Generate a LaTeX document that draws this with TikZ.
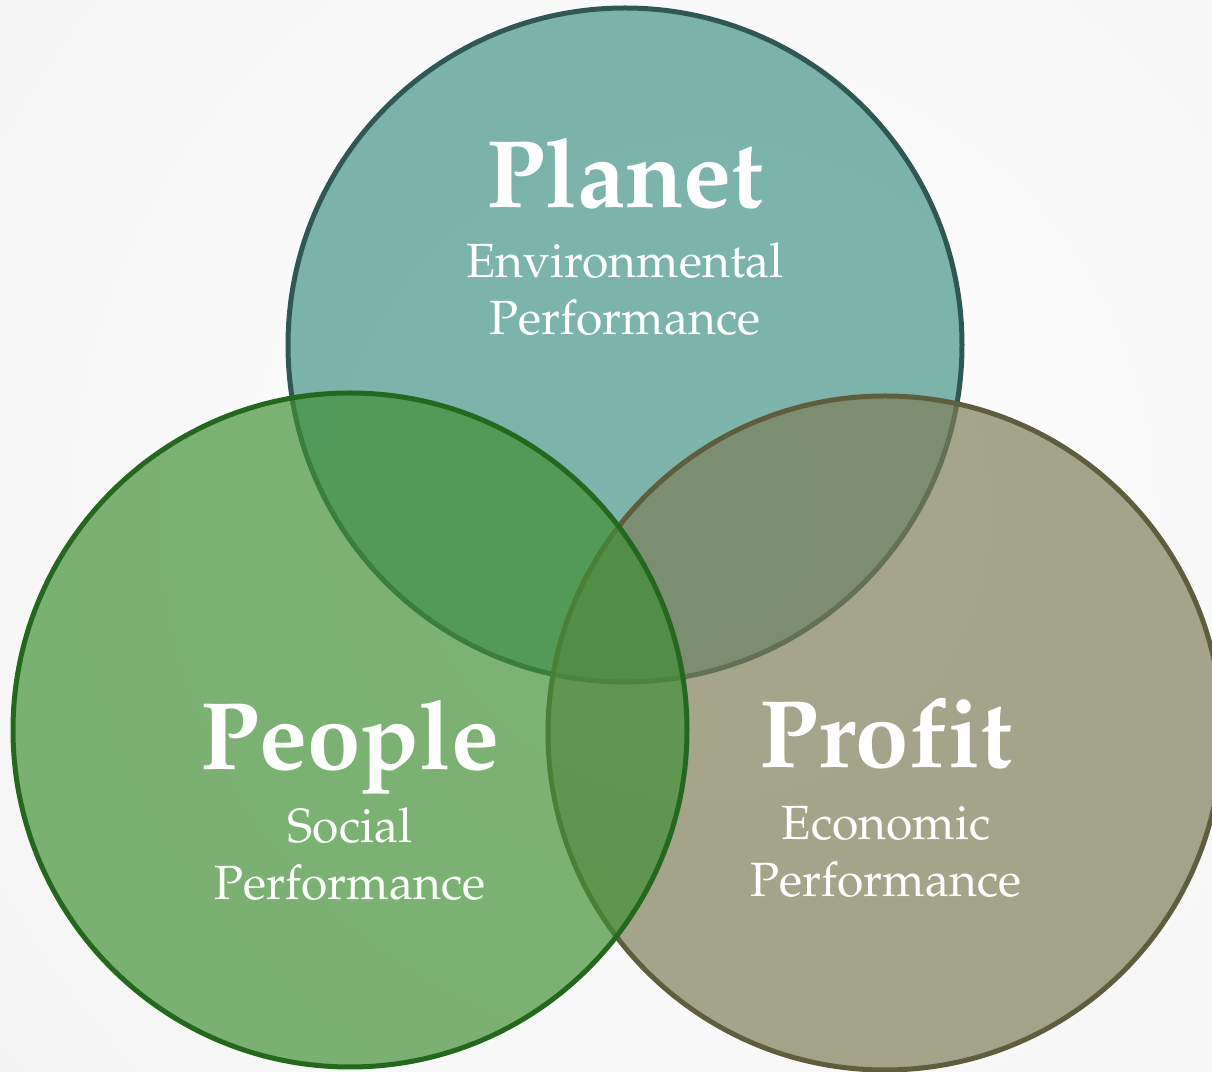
\documentclass[tikz,border=0pt]{standalone}
\usepackage[T1]{fontenc}
\usepackage{mathpazo}
\usepackage{tikz}
\usetikzlibrary{positioning}

\definecolor{planetfill}{RGB}{64,145,133}
\definecolor{planetline}{RGB}{47,88,84}
\definecolor{peoplefill}{RGB}{64,143,51}
\definecolor{peopleline}{RGB}{36,104,30}
\definecolor{profitfill}{RGB}{124,124,86}
\definecolor{profitline}{RGB}{94,94,62}
\definecolor{backlow}{RGB}{243,243,243}

\tikzset{
  ring/.style={circle, inner sep=0pt, minimum size=337pt, line width=2.5pt, fill opacity=0.68},
  bigname/.style={text=white, anchor=base, font=\fontsize{48}{52}\selectfont\bfseries},
  subname/.style={text=white, anchor=base, font=\fontsize{24}{28}\selectfont},
}

\begin{document}
\begin{tikzpicture}[x=0.5pt, y=0.5pt]
  % background
  \useasboundingbox (0,0) rectangle (1212,1072);
  \begin{scope}
    \clip (0,0) rectangle (1212,1072);
    \fill[backlow] (0,0) rectangle (1212,1072);
    \shade[inner color=white, outer color=backlow] (700,560) circle (1000);
  \end{scope}

  % circles
  \node[ring, draw=planetline, fill=planetfill] (planet) at (625,727) {};
  \node[ring, draw=profitline, fill=profitfill] (profit) at (885,339) {};
  \node[ring, draw=peopleline, fill=peoplefill] (people) at (350,342) {};

  % planet
  \node[bigname] (planetname) at (625,864) {Planet};
  \node[subname] (planetsub1) at ([yshift=-35pt]planetname.base) {Environmental};
  \node[subname] (planetsub2) at ([yshift=-28.5pt]planetsub1.base) {Performance};

  % people
  \node[bigname] (peoplename) at (350,302) {People};
  \node[subname] (peoplesub1) at ([yshift=-36.5pt]peoplename.base) {Social};
  \node[subname] (peoplesub2) at ([yshift=-28.5pt]peoplesub1.base) {Performance};

  % profit
  \node[bigname] (profitname) at (886,304) {Pro{f}\kern1pt it};
  \node[subname] (profitsub1) at ([yshift=-36pt]profitname.base) {Economic};
  \node[subname] (profitsub2) at ([yshift=-28.5pt]profitsub1.base) {Performance};
\end{tikzpicture}
\end{document}
